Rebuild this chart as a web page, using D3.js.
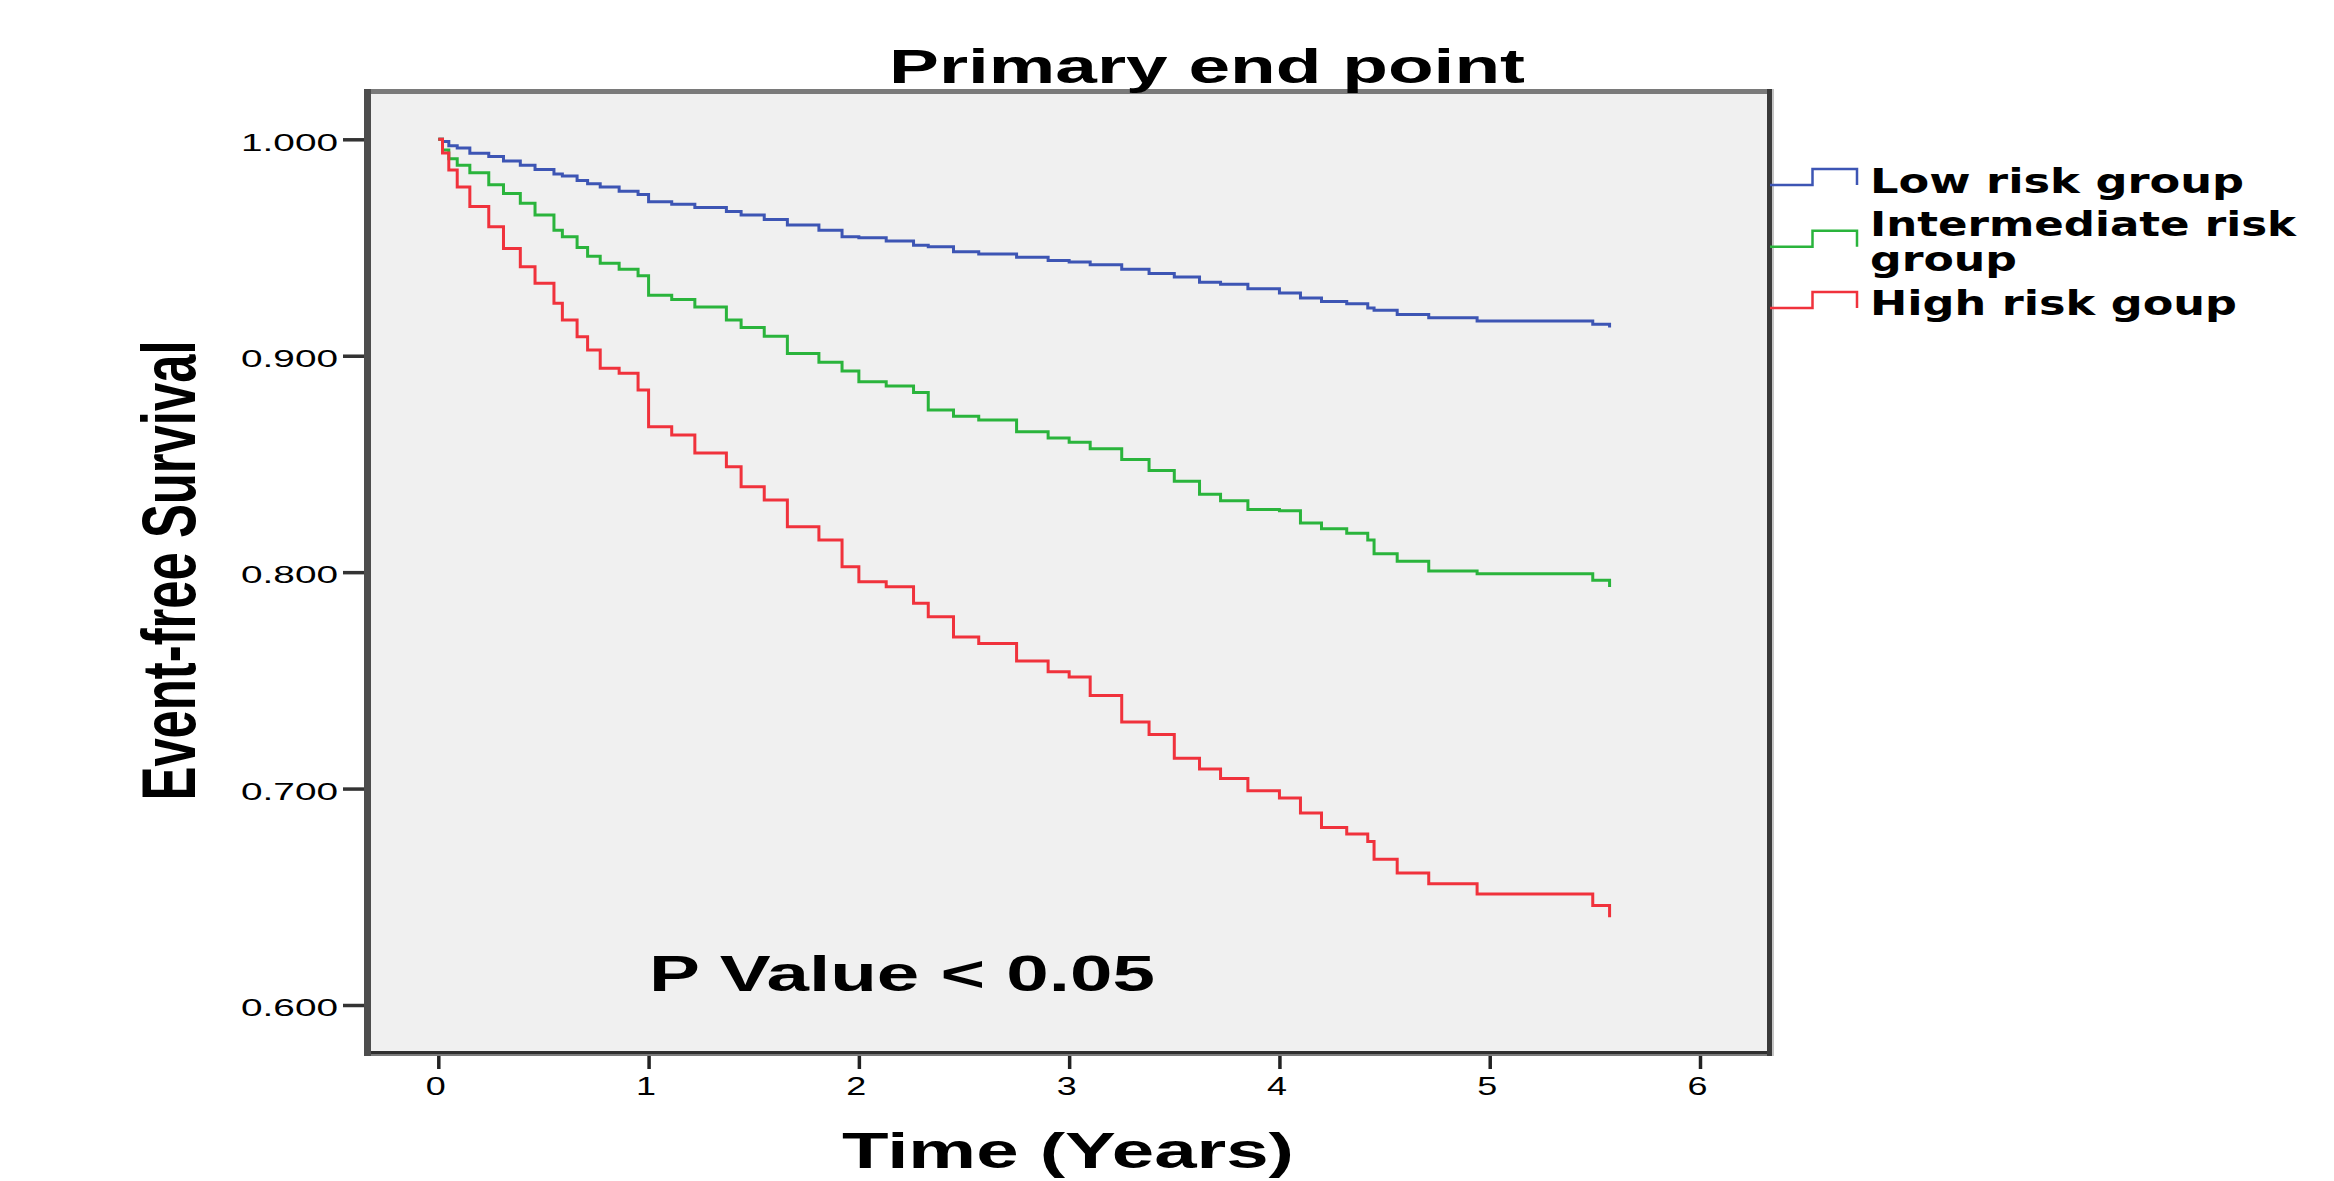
<!DOCTYPE html>
<html>
<head>
<meta charset="utf-8">
<script src="https://cdn.jsdelivr.net/npm/d3@7"></script>
<style>
  body { margin: 0; background: #fff; }
  svg { display: block; }
</style>
</head>
<body>
<svg id="chart" width="2334" height="1181"></svg>
<script>
// time grid (years) shared by the three Kaplan-Meier curves
var times = [0, 0.02, 0.05, 0.09, 0.15, 0.24, 0.31, 0.39, 0.46, 0.55, 0.59, 0.66, 0.71, 0.77, 0.86, 0.95,
    1.0, 1.11, 1.22, 1.37, 1.44, 1.55, 1.66, 1.81, 1.92, 2.0, 2.13, 2.26, 2.33, 2.45, 2.57, 2.75, 2.9,
    3.0, 3.1, 3.25, 3.38, 3.5, 3.62, 3.72, 3.85, 4.0, 4.1, 4.2, 4.32, 4.42, 4.45, 4.56, 4.71, 4.94, 5.49, 5.57];

var lowRisk = [1, 0.999, 0.997, 0.996, 0.9935, 0.992, 0.990, 0.988, 0.986, 0.984, 0.983, 0.981, 0.9795, 0.978, 0.976, 0.9745,
    0.9712, 0.970, 0.9685, 0.9666, 0.965, 0.963, 0.9604, 0.958, 0.955, 0.9545, 0.953, 0.951, 0.9504, 0.948, 0.947, 0.9455, 0.944,
    0.9433, 0.942, 0.940, 0.938, 0.9364, 0.934, 0.933, 0.931, 0.929, 0.9267, 0.925, 0.924, 0.922, 0.921, 0.919, 0.9175, 0.916, 0.9145, 0.913];

var intermediateRisk = [1, 0.995, 0.991, 0.988, 0.9845, 0.979, 0.975, 0.9704, 0.965, 0.958, 0.955, 0.950, 0.946, 0.9427, 0.940, 0.937,
    0.928, 0.926, 0.9225, 0.9165, 0.913, 0.909, 0.901, 0.897, 0.893, 0.888, 0.886, 0.883, 0.8749, 0.872, 0.8703, 0.8649, 0.862,
    0.860, 0.857, 0.852, 0.847, 0.842, 0.836, 0.833, 0.829, 0.8284, 0.8227, 0.820, 0.818, 0.8148, 0.8085, 0.805, 0.8005, 0.7993, 0.7963, 0.7931];

var highRisk = [1, 0.9937, 0.9858, 0.978, 0.9689, 0.9596, 0.9496, 0.9411, 0.9335, 0.9242, 0.9165, 0.9088, 0.9026, 0.8942, 0.8919, 0.8842,
    0.8672, 0.8634, 0.855, 0.8487, 0.8395, 0.8333, 0.821, 0.8148, 0.8025, 0.7956, 0.7933, 0.7856, 0.7794, 0.770, 0.767, 0.759, 0.754,
    0.7515, 0.743, 0.7308, 0.725, 0.714, 0.709, 0.7046, 0.699, 0.6956, 0.6887, 0.682, 0.679, 0.6755, 0.6674, 0.661, 0.656, 0.6513, 0.646, 0.6406];

var groupLabels = [["Low risk group"], ["Intermediate risk", "group"], ["High risk goup"]];
var groupColors = ["#3d55b4", "#2ab43c", "#f0323c"];

var xTicks = [0, 1, 2, 3, 4, 5, 6];
var yTicks = [0.6, 0.7, 0.8, 0.9, 1.0];

var svg = d3.select('#chart');

// plot frame
var frame = {l: 364, t: 89, r: 1774, b: 1056};

var xScale = d3.scaleLinear().domain([0, 6]).range([438.3, 1700]);
var yScale = d3.scaleLinear().domain([0.6, 1.0]).range([1005, 139.3]);

svg.append('rect')
    .attr('x', frame.l).attr('y', frame.t)
    .attr('width', frame.r - frame.l).attr('height', frame.b - frame.t)
    .attr('fill', '#f0f0f0');

// borders, each side a slightly different grey like the original
svg.append('rect').attr('x', frame.l).attr('y', frame.t).attr('width', frame.r - frame.l).attr('height', 5).attr('fill', '#7a7a7a');
svg.append('rect').attr('x', frame.l).attr('y', frame.b - 5).attr('width', frame.r - frame.l).attr('height', 3).attr('fill', '#2f2f2f');
svg.append('rect').attr('x', frame.l).attr('y', frame.b - 2).attr('width', frame.r - frame.l).attr('height', 2).attr('fill', '#7a7a7a');
svg.append('rect').attr('x', frame.l).attr('y', frame.t).attr('width', 7).attr('height', frame.b - frame.t).attr('fill', '#4d4d4d');
svg.append('rect').attr('x', frame.r - 7).attr('y', frame.t).attr('width', 5).attr('height', frame.b - frame.t).attr('fill', '#3a3a3a');
svg.append('rect').attr('x', frame.r - 2).attr('y', frame.t).attr('width', 2).attr('height', frame.b - frame.t).attr('fill', '#c4c4c4');

// y axis
var yAxisG = svg.append('g')
    .attr('transform', 'translate(' + frame.l + ',0)')
    .attr('font-family', 'Liberation Sans, Arial, sans-serif')
    .call(d3.axisLeft(yScale).tickValues(yTicks).tickFormat(d3.format('.3f')).tickSize(21).tickPadding(5).tickSizeOuter(0));
yAxisG.select('.domain').remove();
yAxisG.selectAll('.tick line').attr('stroke', '#333').attr('stroke-width', 3.5);
yAxisG.selectAll('.tick text')
    .attr('font-size', 24)
    .attr('dy', '0.45em')
    .attr('fill', '#000')
    .attr('textLength', 97)
    .attr('lengthAdjust', 'spacingAndGlyphs');

// x axis
var xAxisG = svg.append('g')
    .attr('transform', 'translate(0,' + frame.b + ')')
    .attr('font-family', 'Liberation Sans, Arial, sans-serif')
    .call(d3.axisBottom(xScale).tickValues(xTicks).tickFormat(d3.format('d')).tickSize(13).tickPadding(8).tickSizeOuter(0));
xAxisG.select('.domain').remove();
xAxisG.selectAll('.tick line').attr('stroke', '#222').attr('stroke-width', 3.5);
xAxisG.selectAll('.tick text')
    .attr('font-size', 26)
    .attr('dy', '0.71em')
    .attr('x', -3)
    .attr('fill', '#000')
    .attr('textLength', 20)
    .attr('lengthAdjust', 'spacingAndGlyphs');

// survival curves
var series = [lowRisk, intermediateRisk, highRisk];
var line = d3.line()
    .x(function(d, i) { return xScale(times[i]); })
    .y(function(d) { return yScale(d); })
    .curve(d3.curveStepAfter);

svg.append('g').selectAll('path')
    .data(series)
    .enter()
    .append('path')
    .attr('d', line)
    .attr('fill', 'none')
    .attr('stroke', function(d, i) { return groupColors[i]; })
    .attr('stroke-width', 3);

// legend
var legendLow = [185, 246.7, 308];
var legendG = svg.append('g');
groupLabels.forEach(function(lbl, i) {
    var lo = legendLow[i], hi = lo - 16;
    legendG.append('path')
        .attr('d', 'M1770,' + lo + 'H1812.5V' + hi + 'H1857V' + lo)
        .attr('fill', 'none')
        .attr('stroke', groupColors[i])
        .attr('stroke-width', 2.5);
});

var legendText = [
    {t: 'Low risk group', y: 193, w: 374},
    {t: 'Intermediate risk', y: 236, w: 426},
    {t: 'group', y: 271, w: 147},
    {t: 'High risk goup', y: 315, w: 367}
];
legendG.selectAll('text')
    .data(legendText)
    .enter()
    .append('text')
    .attr('x', 1870)
    .attr('y', function(d) { return d.y; })
    .attr('font-family', 'DejaVu Sans, Verdana, sans-serif')
    .attr('font-weight', 'bold')
    .attr('font-size', 34)
    .attr('textLength', function(d) { return d.w; })
    .attr('lengthAdjust', 'spacingAndGlyphs')
    .text(function(d) { return d.t; });

// titles and annotation
svg.append('text')
    .attr('x', 1207).attr('y', 83)
    .attr('text-anchor', 'middle')
    .attr('font-family', 'Liberation Sans, Arial, sans-serif')
    .attr('font-weight', 'bold')
    .attr('font-size', 49)
    .attr('textLength', 636)
    .attr('lengthAdjust', 'spacingAndGlyphs')
    .text('Primary end point');

svg.append('text')
    .attr('x', 649).attr('y', 991)
    .attr('font-family', 'Liberation Sans, Arial, sans-serif')
    .attr('font-weight', 'bold')
    .attr('font-size', 50)
    .attr('textLength', 506)
    .attr('lengthAdjust', 'spacingAndGlyphs')
    .text('P Value < 0.05');

svg.append('text')
    .attr('x', 1068).attr('y', 1168)
    .attr('text-anchor', 'middle')
    .attr('font-family', 'Liberation Sans, Arial, sans-serif')
    .attr('font-weight', 'bold')
    .attr('font-size', 50)
    .attr('textLength', 452)
    .attr('lengthAdjust', 'spacingAndGlyphs')
    .text('Time (Years)');

svg.append('text')
    .attr('transform', 'translate(195,570.5) scale(1.49,1) rotate(-90)')
    .attr('text-anchor', 'middle')
    .attr('font-family', 'Liberation Sans, Arial, sans-serif')
    .attr('font-weight', 'bold')
    .attr('font-size', 51)
    .attr('textLength', 460)
    .attr('lengthAdjust', 'spacingAndGlyphs')
    .text('Event-free Survival');
</script>
</body>
</html>
